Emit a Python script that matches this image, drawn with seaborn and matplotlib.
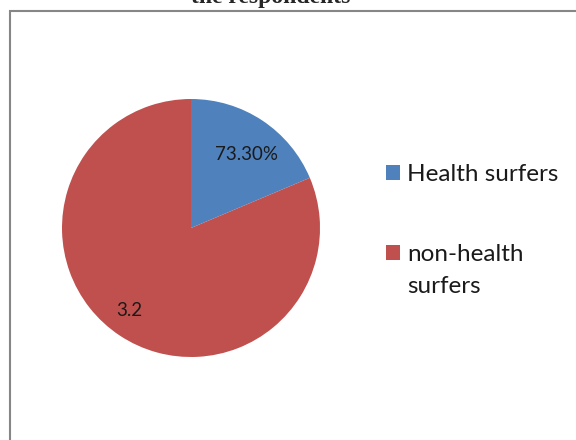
import matplotlib
matplotlib.use("Agg")
import matplotlib.pyplot as plt
import seaborn as sns
import numpy as np
from matplotlib.patches import Rectangle

categories = ["Health surfers", "non-health surfers"]
values = [0.733, 3.2]
value_labels = ["73.30%", "3.2"]
colors = ["#4F81BD", "#C0504D"]
title_text = "the respondents"

sns.set_theme(style="white")
plt.rcParams['font.family'] = ['Lato', 'DejaVu Sans']

W, H = 576, 440
fig = plt.figure(figsize=(W / 100, H / 100), dpi=100)
fig.patch.set_facecolor("white")

# chart frame
fig.add_artist(Rectangle((9.5 / W, -0.1), 1.2, (H - 11.5) / H + 0.1,
                         transform=fig.transFigure, fill=False,
                         edgecolor="#868686", linewidth=1.5))

# title (cut at the top, as in the reference)
fig.text(271 / W, 1 - 3.5 / H, title_text, ha="center", va="baseline",
         fontsize=17, fontweight="bold", family=["Liberation Serif", "DejaVu Serif"])

R = 129
cx, cy = 191, H - 228
ax = fig.add_axes([(cx - R) / W, (cy - R) / H, 2 * R / W, 2 * R / H])
wedges, texts = ax.pie(values, colors=colors, startangle=90, counterclock=False,
                       labels=value_labels, labeldistance=0.75,
                       wedgeprops=dict(linewidth=0),
                       textprops=dict(fontsize=13.5, color="#1a1a1a"))
label_dist = [0.71, 0.80]
for t, w, d in zip(texts, wedges, label_dist):
    mid = np.deg2rad((w.theta1 + w.theta2) / 2 - 3.5)
    t.set_position((d * np.cos(mid), d * np.sin(mid)))
    t.set_ha("center")
    t.set_va("center")
ax.set_xlim(-1, 1)
ax.set_ylim(-1, 1)
ax.set_aspect("equal")
ax.axis("off")

# legend: wrap long label onto a second line under the first
first_words = [c.rsplit(" ", 1)[0] if len(c) > 15 else c for c in categories]
rest_words = [c.rsplit(" ", 1)[1] if len(c) > 15 else "" for c in categories]
leg = fig.legend(wedges, first_words, loc="upper left",
                 bbox_to_anchor=(386 / W, 1 - 164 / H), frameon=False,
                 fontsize=17.5, handlelength=0.58, handleheight=0.58,
                 handletextpad=0.28, labelspacing=2.42, borderpad=0,
                 borderaxespad=0)
for t in leg.get_texts():
    t.set_color("#1a1a1a")

fig.canvas.draw()
inv = fig.transFigure.inverted()
for t, rest in zip(leg.get_texts(), rest_words):
    if rest:
        bb = t.get_window_extent()
        x0, y0 = inv.transform((bb.x0, bb.y0))
        fig.text(x0, y0 - 32 / H, rest, ha="left", va="bottom",
                 fontsize=17.5, color="#1a1a1a")

fig.savefig("out.png", dpi=100, facecolor="white")
